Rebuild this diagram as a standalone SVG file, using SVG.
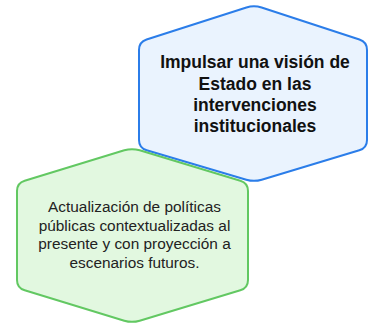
<svg xmlns="http://www.w3.org/2000/svg" width="370" height="324" viewBox="0 0 370 324">
<style>
.hex{stroke-width:2;stroke-linejoin:round}
.blue{fill:#eaf3fe;stroke:#2b7de9}
.green{fill:#e2f8e0;stroke:#62c862}
.t1{font-family:"Liberation Sans",Arial,sans-serif;font-size:17.5px;font-weight:bold;fill:#111;text-anchor:middle}
.t2{font-family:"Liberation Sans",Arial,sans-serif;font-size:15.4px;fill:#222;text-anchor:middle}
</style>
<rect width="370" height="324" fill="#fff"/>
<g id="connectors"></g>
<g id="node-blue">
<path class="hex blue" d="M246.4,7.45 Q254,5 261.6,7.5 L359.4,39.5 Q367,42 367,50 L367,140 Q367,148 359.3,150.3 L261.7,179.7 Q254,182 246.3,179.7 L146.7,150.3 Q139,148 139,140 L139,50 Q139,42 146.6,39.5 Z"/>
<text class="t1" x="255" y="68">Impulsar una visión de</text>
<text class="t1" x="255" y="89.5">Estado en las</text>
<text class="t1" x="255" y="110.5">intervenciones</text>
<text class="t1" x="255" y="131.5">institucionales</text>
</g>
<g id="node-green">
<path class="hex green" d="M124.3,150.3 Q132,148 139.7,150.3 L240.3,180.7 Q248,183 248,191 L248,280 Q248,288 240.3,290.3 L139.7,320.7 Q132,323 124.3,320.7 L24.7,290.3 Q17,288 17,280 L17,191 Q17,183 24.7,180.7 Z"/>
<text class="t2" x="134.5" y="212">Actualización de políticas</text>
<text class="t2" x="134.5" y="230.5">públicas contextualizadas al</text>
<text class="t2" x="134.5" y="249">presente y con proyección a</text>
<text class="t2" x="134.5" y="267.5">escenarios futuros.</text>
</g>
</svg>
